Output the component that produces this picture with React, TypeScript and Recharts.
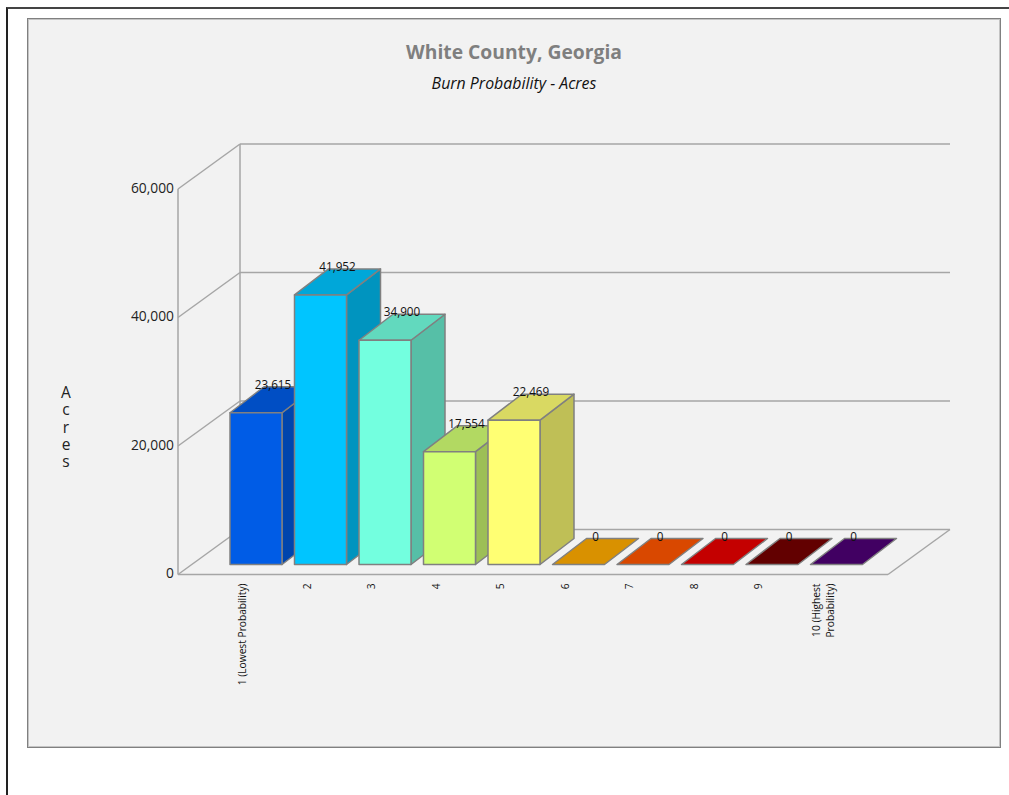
import { BarChart, Bar, XAxis, YAxis, CartesianGrid, LabelList } from 'recharts';

const categories = [
  '1 (Lowest Probability)',
  '2',
  '3',
  '4',
  '5',
  '6',
  '7',
  '8',
  '9',
  '10 (Highest Probability)',
];
const acres = [23615, 41952, 34900, 17554, 22469, 0, 0, 0, 0, 0];
const yTicks = [0, 20000, 40000, 60000];
const frontColors = [
  '#005ce6',
  '#00c5ff',
  '#73ffdf',
  '#d1ff73',
  '#ffff73',
  '#ffaa00',
  '#ff5500',
  '#e60000',
  '#730000',
  '#4c0073',
];

const data = categories.map((name, i) => ({ name, acres: acres[i] }));

const FONT = '"Open Sans", sans-serif';
const GRID = '#a6a6a6';
const EDGE = '#808080';
const INK = '#111';

// offset of the back wall from the front of the floor
const WALL_DX = 62;
const WALL_DY = -45;
// each bar stands a little inside the floor and has its own depth
const BAR_DX = 14;
const BAR_DY = -10;
const DEPTH_DX = 34;
const DEPTH_DY = -26;

function shade(hex: string, k: number) {
  const n = parseInt(hex.slice(1), 16);
  const c = [(n >> 16) & 255, (n >> 8) & 255, n & 255].map((v) => Math.round(v * k));
  return `rgb(${c[0]},${c[1]},${c[2]})`;
}

function Box3D(props: any) {
  const { x, y, width, height, index } = props;
  const color = frontColors[index];
  const l = x + BAR_DX;
  const r = l + width;
  const t = y + BAR_DY;
  const b = t + height;
  const dx = DEPTH_DX;
  const dy = DEPTH_DY;
  const line = { stroke: EDGE, strokeWidth: 1.5, strokeLinejoin: 'round' as const };
  return (
    <g>
      {height > 0 && (
        <polygon
          points={`${r},${t} ${r + dx},${t + dy} ${r + dx},${b + dy} ${r},${b}`}
          fill={shade(color, 0.75)}
          {...line}
        />
      )}
      <polygon
        points={`${l},${t} ${l + dx},${t + dy} ${r + dx},${t + dy} ${r},${t}`}
        fill={shade(color, 0.85)}
        {...line}
      />
      {height > 0 && <rect x={l} y={t} width={width} height={height} fill={color} {...line} />}
    </g>
  );
}

// front edge, wall diagonal and back line for one value of the y axis
function WallLine(props: any) {
  const { x1, x2, y1, x, y, height } = props;
  const bottom = y + height;
  const isFloor = Math.abs(y1 - bottom) < 0.5;
  const isTop = Math.abs(y1 - y) < 0.5;
  const style = { stroke: GRID, strokeWidth: 1.5, fill: 'none' };
  return (
    <g>
      <line x1={x1} y1={y1} x2={x1 + WALL_DX} y2={y1 + WALL_DY} {...style} />
      <line x1={x1 + WALL_DX} y1={y1 + WALL_DY} x2={x2 + WALL_DX} y2={y1 + WALL_DY} {...style} />
      {isFloor && <line x1={x2} y1={y1} x2={x2 + WALL_DX} y2={y1 + WALL_DY} {...style} />}
      {isTop && (
        <line
          x1={x1 + WALL_DX}
          y1={y1 + WALL_DY}
          x2={x1 + WALL_DX}
          y2={bottom + WALL_DY}
          {...style}
        />
      )}
    </g>
  );
}

function CategoryTick(props: any) {
  const { x, y, payload } = props;
  const text: string = payload.value;
  const split = text.length > 22 ? text.lastIndexOf(' ') : -1;
  const lines = split > 0 ? [text.slice(0, split), text.slice(split + 1)] : [text];
  return (
    <g transform={`translate(${x + 0.5},${y}) rotate(-90)`}>
      {lines.map((t, i) => (
        <text
          key={t}
          x={0}
          y={(i - (lines.length - 1) / 2) * 14}
          dy={3.5}
          textAnchor="end"
          fontFamily={FONT}
          fontSize={10.2}
          fill={INK}
        >
          {t}
        </text>
      ))}
    </g>
  );
}

function ValueTick(props: any) {
  const { x, y, payload } = props;
  return (
    <text x={x + 5} y={y + 3.5} textAnchor="end" fontFamily={FONT} fontSize={13.8} fill="#222">
      {Number(payload.value).toLocaleString('en-US')}
    </text>
  );
}

function ValueLabel(props: any) {
  const { x, y, width, value } = props;
  return (
    <text
      x={x + BAR_DX + width / 2 + DEPTH_DX / 2}
      y={y + BAR_DY + DEPTH_DY + 2}
      textAnchor="middle"
      fontFamily={FONT}
      fontSize={11.7}
      fill={INK}
    >
      {Number(value).toLocaleString('en-US')}
    </text>
  );
}

function AxisName() {
  const letters = ['A', 'c', 'r', 'e', 's'];
  return (
    <text fontFamily={FONT} fontSize={15.5} fill="#222" textAnchor="middle">
      {letters.map((c, i) => (
        <tspan key={i} x={66} y={398 + i * 17.3}>
          {c}
        </tspan>
      ))}
    </text>
  );
}

export default function App() {
  return (
    <div style={{ position: 'absolute', left: 0, top: 0, width: 1009, height: 795, background: '#fff' }}>
      {/* page frame */}
      <div style={{ position: 'absolute', left: 6, top: 7, right: 0, bottom: 0, borderLeft: '2px solid #222', borderTop: '2px solid #444' }} />
      <div style={{ position: 'absolute', left: 27, top: 18, width: 972, height: 728, background: '#f2f2f2', border: '1px solid #808080', boxShadow: 'inset 0 0 0 1px #c4c4c4' }} />
      <div style={{ position: 'absolute', left: 0, top: 0 }}>
        <BarChart
          width={1009}
          height={795}
          data={data}
          margin={{ top: 189, right: 121, bottom: 120.5, left: 118 }}
        >
          <text x={514} y={58.5} textAnchor="middle" fontFamily={FONT} fontWeight={700} fontSize={19.3} fill="#7f7f7f">
            White County, Georgia
          </text>
          <text x={514} y={89} textAnchor="middle" fontFamily={FONT} fontStyle="italic" fontSize={15.9} fill={INK}>
            Burn Probability - Acres
          </text>
          <AxisName />
          <CartesianGrid vertical={false} horizontal={(p: any) => <WallLine key={p.index} {...p} />} />
          <XAxis
            dataKey="name"
            interval={0}
            height={100}
            padding={{ left: 32, right: 33 }}
            tick={<CategoryTick />}
            tickLine={false}
            tickMargin={3}
            axisLine={{ stroke: GRID, strokeWidth: 1.5 }}
          />
          <YAxis
            domain={[0, 60000]}
            ticks={yTicks}
            width={60}
            tickLine={false}
            tickMargin={3}
            tick={<ValueTick />}
            axisLine={{ stroke: GRID, strokeWidth: 1.5 }}
          />
          <Bar dataKey="acres" barSize={52} shape={<Box3D />} isAnimationActive={false}>
            <LabelList dataKey="acres" content={<ValueLabel />} />
          </Bar>
        </BarChart>
      </div>
    </div>
  );
}
